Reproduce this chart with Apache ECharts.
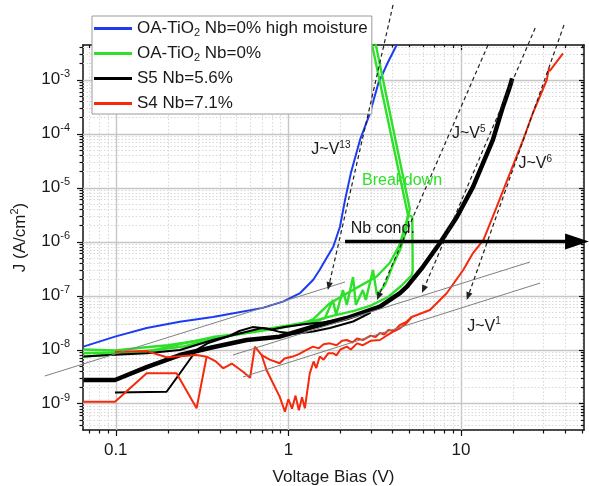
<!DOCTYPE html>
<html>
<head>
<meta charset="utf-8">
<script src="https://cdn.jsdelivr.net/npm/echarts@6/dist/echarts.min.js"></script>
<style>
html, body { margin: 0; padding: 0; background: #fff; }
#chart { width: 589px; height: 486px; }
</style>
</head>
<body>
<div id="chart"></div>
<script>
// ---------- J–V sweeps (V in volts, J in A/cm^2) ----------
// OA-TiO2, Nb = 0 %, high moisture
const vBlue = [0.065,0.099,0.151,0.235,0.365,0.50,0.71,0.93,1.17,1.39,1.52,1.6,1.82,1.99,2.13,2.30,2.60,2.97,3.32,3.75,4.24,4.6];
const jBlue = [1.13e-8,1.73e-8,2.5e-8,3.27e-8,4.0e-8,4.8e-8,5.9e-8,7.7e-8,1.11e-7,1.94e-7,3.0e-7,4.0e-7,8.0e-7,1.88e-6,5.9e-6,1.83e-5,7.6e-5,2.37e-4,8.5e-4,2.0e-3,4.36e-3,8e-3];

// OA-TiO2, Nb = 0 % : noisy forward sweep ending in breakdown
const vGreenA = [0.065,0.099,0.151,0.235,0.365,0.574,0.89,1.39,1.63,1.81,1.89,2.07,2.18,2.37,2.46,2.70,2.81,3.09,3.26,3.63,4.03,4.43,4.73,4.93,2.91];
const jGreenA = [7.3e-9,8.3e-9,9.0e-9,1.26e-8,1.70e-8,2.02e-8,2.5e-8,3.23e-8,3.83e-8,8.3e-8,4.35e-8,1.26e-7,6.7e-8,2.2e-7,6.7e-8,1.26e-7,8.3e-8,2.97e-7,1.02e-7,1.56e-7,3.67e-7,6.96e-7,1.32e-6,3.1e-6,9.1e-3];
// second sweep
const vGreenB = [0.065,0.099,0.15,0.2,0.3,0.45,0.6,0.9,1.2,1.39,1.74,2.37,3.25,3.86,4.4,4.93,5.05,3.07];
const jGreenB = [1.0e-8,9.6e-9,1.1e-8,1.2e-8,1.45e-8,1.8e-8,2.1e-8,2.6e-8,3.0e-8,3.6e-8,7.2e-8,1.27e-7,2.25e-7,4.0e-7,8.5e-7,2.88e-6,4.0e-6,8.8e-3];
// return sweep
const vGreenC = [5.0,5.22,5.25,5.2,4.5,3.8,3.0,2.4,1.8,1.4,1.0,0.7,0.5,0.35,0.25,0.18,0.13,0.099,0.065];
const jGreenC = [3.0e-6,2.9e-6,3.0e-7,2.4e-7,1.5e-7,9.5e-8,6.5e-8,5.2e-8,4.2e-8,3.4e-8,2.8e-8,2.3e-8,1.9e-8,1.5e-8,1.15e-8,1.0e-8,9.0e-9,8.8e-9,8.5e-9];

// S5, Nb = 5.6 %
const vBlackA = [0.065,0.099,0.151,0.235,0.365,0.574,0.89,1.39,2.18,3.39,4.43,4.86,6.02,7.55,9.48,11.74,14.2,15.3,17.5,19.2,19.8];
const jBlackA = [2.72e-9,2.72e-9,4.7e-9,7.9e-9,1.1e-8,1.5e-8,1.73e-8,2.64e-8,3.83e-8,6.2e-8,1.11e-7,1.46e-7,3.4e-7,9.4e-7,2.88e-6,1.03e-5,4.35e-5,7.6e-5,3.14e-4,7.4e-4,1.05e-3];
const vBlackB = [0.099,0.197,0.235,0.294,0.34,0.45,0.52,0.62,0.75,0.9,1.1,1.39,1.74,2.37,3.0];
const jBlackB = [1.6e-9,1.65e-9,3.6e-9,9.8e-9,1.3e-8,1.75e-8,2.2e-8,2.6e-8,2.45e-8,2.1e-8,1.95e-8,2.15e-8,2.5e-8,3.3e-8,4.8e-8];
const vBlackC = [0.065,0.099,0.151,0.235,0.365,0.574,0.7,0.8,0.95,1.2,1.6,2.0,2.6];
const jBlackC = [7.4e-9,8.0e-9,8.5e-9,9.8e-9,1.5e-8,2.14e-8,2.5e-8,2.35e-8,2.6e-8,2.9e-8,3.2e-8,3.6e-8,4.6e-8];

// S4, Nb = 7.1 %
const vRedA = [0.065,0.099,0.151,0.225,0.294,0.336,0.38,0.419,0.47,0.546,0.6,0.64,0.70,0.747,0.89,0.955,1.0,1.05,1.1,1.15,1.2,1.246,1.33,1.4,1.45,1.52,1.6,1.7,1.82,1.9,2.0,2.18,2.3,2.5,2.7,3.0,3.39,3.7,4.0,4.43,4.8,5.18,6.61,8.26,10.3,11.74,13.5,16.1,19.2,22.9,26.1,31.4,32.3,32.7,39.0];
const jRedA = [1.08e-9,1.08e-9,3.62e-9,3.62e-9,8.15e-10,7.36e-9,6.0e-9,4.49e-9,5.5e-9,3.88e-9,3.0e-9,1.13e-8,7.9e-9,4.17e-9,1.34e-9,7.05e-10,1.2e-9,8.0e-10,1.4e-9,7.5e-10,1.3e-9,8.15e-10,3.62e-9,6.0e-9,4.5e-9,7.4e-9,6.5e-9,8.5e-9,8.5e-9,7.8e-9,1.0e-8,1.13e-8,1.0e-8,1.3e-8,1.2e-8,1.45e-8,1.5e-8,1.8e-8,2.1e-8,2.47e-8,3.0e-8,4.0e-8,5.4e-8,1.1e-7,2.97e-7,6.1e-7,1.07e-6,4.4e-6,1.83e-5,7.6e-5,2.4e-4,9.8e-4,1.6e-3,1.45e-3,3.05e-3];
const vRedB = [0.099,0.151,0.197,0.294,0.336];
const jRedB = [9.0e-9,9.4e-9,7.2e-9,7.9e-9,7.36e-9];
const vRedC = [0.70,0.78,0.89,0.95,1.06,1.15,1.25,1.39,1.5,1.6,1.74,1.9,2.05,2.18,2.35,2.5,2.7,3.0,3.2,3.39,3.6,3.8,4.1,4.43,4.8,5.18];
const jRedC = [7.9e-9,6.5e-9,5.55e-9,6.8e-9,7.4e-9,8.2e-9,9.5e-9,1.13e-8,1.05e-8,1.25e-8,1.3e-8,1.2e-8,1.45e-8,1.5e-8,1.35e-8,1.6e-8,1.5e-8,1.8e-8,1.7e-8,2.02e-8,1.9e-8,2.3e-8,2.2e-8,2.84e-8,3.2e-8,4.0e-8];

// ---------- guide lines and notes (data coordinates) ----------
// power-law guides: [V1, J1, V2, J2], arrow at the second point
const powerArrows = [
  [4.04, 0.024, 1.694, 1.26e-7],
  [14.34, 4.36e-3, 3.26, 8.26e-8],
  [26.9, 9.0e-3, 5.94, 1.11e-7],
  [39.5, 1.02e-2, 10.8, 8.26e-8]
];
// ohmic (J~V) guides
const ohmicLines = [
  [0.0388, 3.23e-9, 2.13, 1.78e-7],
  [0.477, 7.9e-9, 25.1, 4.17e-7],
  [0.546, 3.1e-9, 28.7, 1.7e-7]
];
// Nb concentration arrow
const condArrow = [[2.13, 1.0e-6, 55.2, 1.0e-6]];

const noteText = ['J~V{s|13}', 'J~V{s|5}', 'J~V{s|6}', 'J~V{s|1}', 'Breakdown', 'Nb cond.'];
const noteV = [1.763, 11.1, 26.9, 13.6, 2.67, 2.30];
const noteJ = [4.95e-5, 9.8e-5, 2.72e-5, 2.7e-8, 1.32e-5, 1.7e-6];

// series names (legend)
const names = ['OA-TiO2 Nb=0% high moisture', 'OA-TiO2 Nb=0%', 'S5 Nb=5.6%', 'S4 Nb=7.1%'];

// ---------- axis ranges ----------
const X_MIN = 0.0646, X_MAX = 51.6;
const Y_MIN = 3.23e-10, Y_MAX = 4.36e-3;

const FONT = '"Liberation Sans", Arial, sans-serif';
const BLUE = '#1d3cf2', GREEN = '#2fe02a', BLACK = '#000000', RED = '#f52a0c';

function zip(v, j) { return v.map((x, i) => [x, j[i]]); }

function logTicks(lo, hi) {
  const out = [];
  for (let k = Math.floor(Math.log10(lo)); k <= Math.ceil(Math.log10(hi)); k++) {
    for (let m = 1; m <= 9; m++) {
      const v = m * Math.pow(10, k);
      if (v >= lo && v <= hi) out.push([v, m === 1 ? 1 : 0]);
    }
  }
  return out;
}

const X_REF = 1, Y_REF = 1e-6;
const xTicks = logTicks(X_MIN, X_MAX).map(t => [t[0], Y_REF, t[1]]);
const yTicks = logTicks(Y_MIN, Y_MAX).map(t => [X_REF, t[0], t[1]]);

const MAJ_GRID = { stroke: '#c6c6c6', lineWidth: 1.4 };
const MIN_GRID = { stroke: '#d8d8d8', lineWidth: 1, lineDash: [1.5, 2] };
const TICK = { stroke: '#111', lineWidth: 1.2 };

function lineSeries(name, data, color, width, z) {
  return {
    name, type: 'line', data, showSymbol: false, symbol: 'none', clip: true,
    lineStyle: { color, width }, itemStyle: { color }, z: z || 3, silent: true
  };
}

function arrowHead(p1, p2, len, half) {
  const dx = p2[0] - p1[0], dy = p2[1] - p1[1];
  const L = Math.sqrt(dx * dx + dy * dy);
  const ux = dx / L, uy = dy / L;
  const bx = p2[0] - ux * len, by = p2[1] - uy * len;
  return { base: [bx, by], pts: [[p2[0], p2[1]], [bx - uy * half, by + ux * half], [bx + uy * half, by - ux * half]] };
}

const option = {
  animation: false,
  backgroundColor: '#fff',
  grid: { left: 83, right: 5, top: 45, bottom: 56, containLabel: false, outerBoundsMode: 'none' },
  legend: {
    data: names,
    orient: 'vertical',
    left: 92, top: 16,
    padding: [3, 4, 1, 2],
    itemGap: 6,
    itemWidth: 38, itemHeight: 3,
    icon: 'rect',
    backgroundColor: '#fff',
    borderColor: '#9a9a9a', borderWidth: 1,
    formatter: n => n.replace('TiO2', 'TiO{sub|2}'),
    textStyle: {
      fontFamily: FONT, fontSize: 17, color: '#1a1a1a', lineHeight: 19,
      rich: { sub: { fontFamily: FONT, fontSize: 11, lineHeight: 9, verticalAlign: 'bottom', color: '#1a1a1a' } }
    },
    selectedMode: false
  },
  xAxis: [{
    type: 'log', logBase: 10, min: X_MIN, max: X_MAX,
    position: 'bottom',
    axisLine: { show: true, lineStyle: { color: '#111', width: 1.5 } },
    axisTick: { show: false },
    splitLine: { show: false },
    axisLabel: {
      margin: 12, color: '#1a1a1a', fontFamily: FONT, fontSize: 17,
      formatter: v => {
        const e = Math.log10(v);
        if (Math.abs(e - Math.round(e)) > 0.01) return '';
        const k = Math.round(e);
        return k < 0 ? (Math.pow(10, k)).toFixed(-k) : String(Math.pow(10, k));
      }
    },
    name: 'Voltage Bias (V)', nameLocation: 'middle', nameGap: 39,
    nameTextStyle: { fontFamily: FONT, fontSize: 17, color: '#1a1a1a' }
  }, {
    type: 'log', logBase: 10, min: X_MIN, max: X_MAX,
    position: 'top',
    axisLine: { show: true, lineStyle: { color: '#111', width: 1.5 } },
    axisTick: { show: false }, axisLabel: { show: false }, splitLine: { show: false }
  }],
  yAxis: [{
    type: 'log', logBase: 10, min: Y_MIN, max: Y_MAX,
    position: 'left',
    axisLine: { show: true, lineStyle: { color: '#111', width: 1.5 } },
    axisTick: { show: false },
    splitLine: { show: false },
    axisLabel: {
      margin: 13, color: '#1a1a1a', fontFamily: FONT,
      formatter: v => {
        const e = Math.log10(v);
        if (Math.abs(e - Math.round(e)) > 0.01) return '';
        return '{b|10}{s|' + Math.round(e) + '}';
      },
      rich: {
        b: { fontFamily: FONT, fontSize: 17, lineHeight: 22, color: '#1a1a1a' },
        s: { fontFamily: FONT, fontSize: 11, lineHeight: 10, verticalAlign: 'top', color: '#1a1a1a' }
      }
    },
    name: '{n|J (A/cm}{s|2}{n|)}', nameLocation: 'middle', nameGap: 52, nameRotate: 90,
    nameTextStyle: {
      rich: {
        n: { fontFamily: FONT, fontSize: 17, lineHeight: 22, color: '#1a1a1a' },
        s: { fontFamily: FONT, fontSize: 11, lineHeight: 10, verticalAlign: 'top', color: '#1a1a1a' }
      }
    }
  }, {
    type: 'log', logBase: 10, min: Y_MIN, max: Y_MAX,
    position: 'right',
    axisLine: { show: true, lineStyle: { color: '#111', width: 1.5 } },
    axisTick: { show: false }, axisLabel: { show: false }, splitLine: { show: false }
  }],
  series: [
    // grid lines and ticks along V
    {
      type: 'custom', coordinateSystem: 'cartesian2d', data: xTicks, clip: false, z: 1, silent: true,
      renderItem(params, api) {
        const cs = params.coordSys;
        const maj = api.value(2) === 1;
        const x = Math.round(api.coord([api.value(0), Y_REF])[0]) + 0.5;
        const top = cs.y, bot = cs.y + cs.height;
        return {
          type: 'group', children: [
            { type: 'line', shape: { x1: x, y1: top, x2: x, y2: bot }, style: maj ? MAJ_GRID : MIN_GRID },
            { type: 'line', shape: { x1: x, y1: bot, x2: x, y2: bot + (maj ? 6 : 3.5) }, style: TICK },
            { type: 'line', shape: { x1: x, y1: top, x2: x, y2: top + (maj ? 5 : 3) }, style: TICK }
          ]
        };
      }
    },
    // grid lines and ticks along J
    {
      type: 'custom', coordinateSystem: 'cartesian2d', data: yTicks, clip: false, z: 1, silent: true,
      renderItem(params, api) {
        const cs = params.coordSys;
        const maj = api.value(2) === 1;
        const y = Math.round(api.coord([X_REF, api.value(1)])[1]) + 0.5;
        const left = cs.x, right = cs.x + cs.width;
        return {
          type: 'group', children: [
            { type: 'line', shape: { x1: left, y1: y, x2: right, y2: y }, style: maj ? MAJ_GRID : MIN_GRID },
            { type: 'line', shape: { x1: left - (maj ? 6 : 3.5), y1: y, x2: left, y2: y }, style: TICK },
            { type: 'line', shape: { x1: right - (maj ? 5 : 3), y1: y, x2: right, y2: y }, style: TICK }
          ]
        };
      }
    },
    lineSeries(names[0], zip(vBlue, jBlue), BLUE, 2),
    lineSeries(names[1], zip(vGreenA, jGreenA), GREEN, 2.4),
    lineSeries(names[1], zip(vGreenB, jGreenB), GREEN, 2.4),
    lineSeries(names[1], zip(vGreenC, jGreenC), GREEN, 2.4),
    lineSeries(names[2], zip(vBlackA, jBlackA), BLACK, 4.5),
    lineSeries(names[2], zip(vBlackB, jBlackB), BLACK, 2),
    lineSeries(names[2], zip(vBlackC, jBlackC), BLACK, 2),
    lineSeries(names[3], zip(vRedA, jRedA), RED, 2),
    lineSeries(names[3], zip(vRedB, jRedB), RED, 2),
    lineSeries(names[3], zip(vRedC, jRedC), RED, 2),
    // ohmic guides
    {
      type: 'custom', coordinateSystem: 'cartesian2d', data: ohmicLines, clip: false, z: 5, silent: true,
      renderItem(params, api) {
        const p1 = api.coord([api.value(0), api.value(1)]);
        const p2 = api.coord([api.value(2), api.value(3)]);
        return { type: 'line', shape: { x1: p1[0], y1: p1[1], x2: p2[0], y2: p2[1] }, style: { stroke: '#808080', lineWidth: 1 } };
      }
    },
    // power-law guides with arrows
    {
      type: 'custom', coordinateSystem: 'cartesian2d', data: powerArrows, clip: false, z: 5, silent: true,
      renderItem(params, api) {
        const p1 = api.coord([api.value(0), api.value(1)]);
        const p2 = api.coord([api.value(2), api.value(3)]);
        const h = arrowHead(p1, p2, 8, 3.2);
        return {
          type: 'group', children: [
            { type: 'line', shape: { x1: p1[0], y1: p1[1], x2: h.base[0], y2: h.base[1] }, style: { stroke: '#222', lineWidth: 1.2, lineDash: [4, 3] } },
            { type: 'polygon', shape: { points: h.pts }, style: { fill: '#222' } }
          ]
        };
      }
    },
    // Nb concentration arrow
    {
      type: 'custom', coordinateSystem: 'cartesian2d', data: condArrow, clip: false, z: 6, silent: true,
      renderItem(params, api) {
        const p1 = api.coord([api.value(0), api.value(1)]);
        const p2 = api.coord([api.value(2), api.value(3)]);
        const h = arrowHead(p1, p2, 24, 8);
        return {
          type: 'group', children: [
            { type: 'line', shape: { x1: p1[0], y1: p1[1], x2: h.base[0] + 2, y2: h.base[1] }, style: { stroke: '#000', lineWidth: 3.6 } },
            { type: 'polygon', shape: { points: h.pts }, style: { fill: '#000' } }
          ]
        };
      }
    },
    // notes
    {
      type: 'custom', coordinateSystem: 'cartesian2d', clip: false, z: 7, silent: true,
      data: noteV.map((v, i) => [v, noteJ[i], i]),
      renderItem(params, api) {
        const i = api.value(2);
        const p = api.coord([api.value(0), api.value(1)]);
        const isGreen = noteText[i] === 'Breakdown';
        const leftAligned = i >= 4;
        return {
          type: 'text', x: p[0], y: p[1],
          style: {
            text: noteText[i],
            fill: isGreen ? GREEN : '#1a1a1a',
            fontFamily: FONT, fontSize: 16,
            align: leftAligned ? 'left' : 'center', verticalAlign: 'middle',
            rich: {
              s: { fontFamily: FONT, fontSize: 10, lineHeight: 8, verticalAlign: 'top', fill: '#1a1a1a' }
            },
            lineHeight: 20
          }
        };
      }
    }
  ]
};

const chart = echarts.init(document.getElementById('chart'), null, { renderer: 'canvas' });
chart.setOption(option);
</script>
</body>
</html>
